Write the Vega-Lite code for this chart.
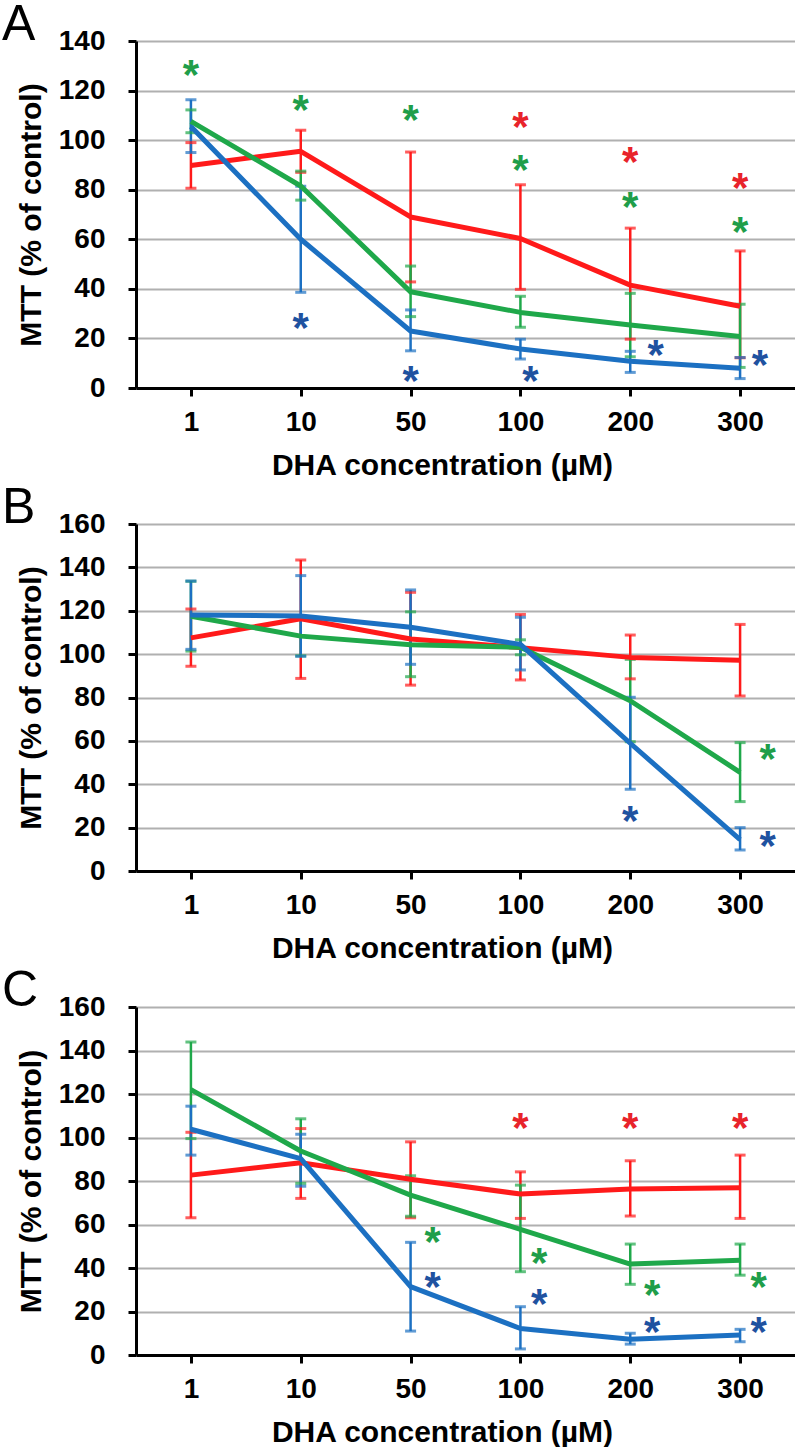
{
  "$schema": "https://vega.github.io/schema/vega-lite/v6.json",
  "autosize": {"type": "pad"},
  "padding": {"left": 2, "top": 0, "right": 0, "bottom": 0},
  "background": "white",
  "bounds": "flush",
  "spacing": 136,
  "config": {
    "view": {"stroke": null},
    "font": "Liberation Sans",
    "title": {"anchor": "start", "frame": "group", "font": "Liberation Sans", "fontSize": 50, "fontWeight": "normal", "color": "black", "dx": -134, "offset": -23, "baseline": "alphabetic"},
    "axis": {"domainColor": "black", "domainWidth": 3, "tickColor": "black", "tickWidth": 3, "tickSize": 8, "labelFont": "Liberation Sans", "labelFontWeight": "bold", "labelFontSize": 28, "labelColor": "black", "titleFont": "Liberation Sans", "titleFontWeight": "bold", "titleFontSize": 30, "titleColor": "black"},
    "axisY": {"grid": true, "gridColor": "#b0b0b0", "gridWidth": 2, "labelPadding": 23, "titlePadding": 12},
    "axisX": {"grid": false, "labelAngle": 0, "labelPadding": 12, "titlePadding": 14, "titleX": 306}
  },
  "datasets": {
    "bars": [
      {"panel": "A", "dose": "1", "series": "red", "mean": 89.8, "lo": 80.6, "hi": 99.0},
      {"panel": "A", "dose": "10", "series": "red", "mean": 95.5, "lo": 87.0, "hi": 104.0},
      {"panel": "A", "dose": "50", "series": "red", "mean": 69.0, "lo": 42.8, "hi": 95.2},
      {"panel": "A", "dose": "100", "series": "red", "mean": 60.3, "lo": 39.8, "hi": 82.0},
      {"panel": "A", "dose": "200", "series": "red", "mean": 41.5, "lo": 19.7, "hi": 64.5},
      {"panel": "A", "dose": "300", "series": "red", "mean": 33.0, "lo": 12.2, "hi": 55.3},
      {"panel": "A", "dose": "1", "series": "green", "mean": 107.6, "lo": 103.0, "hi": 112.2},
      {"panel": "A", "dose": "10", "series": "green", "mean": 81.5, "lo": 75.8, "hi": 87.5},
      {"panel": "A", "dose": "50", "series": "green", "mean": 38.8, "lo": 28.8, "hi": 49.2},
      {"panel": "A", "dose": "100", "series": "green", "mean": 30.5, "lo": 24.5, "hi": 37.0},
      {"panel": "A", "dose": "200", "series": "green", "mean": 25.4, "lo": 12.6, "hi": 38.2},
      {"panel": "A", "dose": "300", "series": "green", "mean": 20.8, "lo": 8.3, "hi": 33.8},
      {"panel": "A", "dose": "1", "series": "blue", "mean": 105.5, "lo": 95.0, "hi": 116.3},
      {"panel": "A", "dose": "10", "series": "blue", "mean": 60.0, "lo": 38.6, "hi": 81.4},
      {"panel": "A", "dose": "50", "series": "blue", "mean": 23.0, "lo": 15.0, "hi": 31.5},
      {"panel": "A", "dose": "100", "series": "blue", "mean": 15.7, "lo": 11.7, "hi": 19.7},
      {"panel": "A", "dose": "200", "series": "blue", "mean": 10.8, "lo": 6.3, "hi": 14.8},
      {"panel": "A", "dose": "300", "series": "blue", "mean": 8.0, "lo": 3.8, "hi": 12.3},
      {"panel": "B", "dose": "1", "series": "red", "mean": 107.5, "lo": 94.4, "hi": 120.8},
      {"panel": "B", "dose": "10", "series": "red", "mean": 116.3, "lo": 88.8, "hi": 143.4},
      {"panel": "B", "dose": "50", "series": "red", "mean": 107.0, "lo": 85.7, "hi": 128.5},
      {"panel": "B", "dose": "100", "series": "red", "mean": 103.0, "lo": 88.1, "hi": 118.3},
      {"panel": "B", "dose": "200", "series": "red", "mean": 98.5, "lo": 88.6, "hi": 108.8},
      {"panel": "B", "dose": "300", "series": "red", "mean": 97.2, "lo": 80.7, "hi": 113.7},
      {"panel": "B", "dose": "1", "series": "green", "mean": 117.5, "lo": 101.4, "hi": 133.6},
      {"panel": "B", "dose": "10", "series": "green", "mean": 108.3, "lo": 99.2, "hi": 117.4},
      {"panel": "B", "dose": "50", "series": "green", "mean": 104.3, "lo": 89.6, "hi": 119.5},
      {"panel": "B", "dose": "100", "series": "green", "mean": 103.2, "lo": 99.7, "hi": 106.6},
      {"panel": "B", "dose": "200", "series": "green", "mean": 78.5, "lo": 59.6, "hi": 97.6},
      {"panel": "B", "dose": "300", "series": "green", "mean": 45.5, "lo": 32.0, "hi": 59.2},
      {"panel": "B", "dose": "1", "series": "blue", "mean": 118.0, "lo": 102.2, "hi": 133.7},
      {"panel": "B", "dose": "10", "series": "blue", "mean": 117.6, "lo": 99.0, "hi": 136.2},
      {"panel": "B", "dose": "50", "series": "blue", "mean": 112.4, "lo": 95.3, "hi": 129.6},
      {"panel": "B", "dose": "100", "series": "blue", "mean": 104.5, "lo": 92.7, "hi": 117.0},
      {"panel": "B", "dose": "200", "series": "blue", "mean": 58.9, "lo": 37.7, "hi": 80.1},
      {"panel": "B", "dose": "300", "series": "blue", "mean": 14.5, "lo": 9.7, "hi": 20.0},
      {"panel": "C", "dose": "1", "series": "red", "mean": 82.7, "lo": 63.1, "hi": 102.4},
      {"panel": "C", "dose": "10", "series": "red", "mean": 88.4, "lo": 72.0, "hi": 104.1},
      {"panel": "C", "dose": "50", "series": "red", "mean": 80.8, "lo": 63.1, "hi": 98.0},
      {"panel": "C", "dose": "100", "series": "red", "mean": 74.0, "lo": 62.8, "hi": 84.2},
      {"panel": "C", "dose": "200", "series": "red", "mean": 76.3, "lo": 63.9, "hi": 89.3},
      {"panel": "C", "dose": "300", "series": "red", "mean": 76.9, "lo": 62.8, "hi": 91.9},
      {"panel": "C", "dose": "1", "series": "green", "mean": 122.0, "lo": 99.5, "hi": 143.9},
      {"panel": "C", "dose": "10", "series": "green", "mean": 93.8, "lo": 78.9, "hi": 108.6},
      {"panel": "C", "dose": "50", "series": "green", "mean": 73.5, "lo": 63.8, "hi": 82.4},
      {"panel": "C", "dose": "100", "series": "green", "mean": 57.8, "lo": 38.3, "hi": 78.1},
      {"panel": "C", "dose": "200", "series": "green", "mean": 41.8, "lo": 32.5, "hi": 51.0},
      {"panel": "C", "dose": "300", "series": "green", "mean": 43.6, "lo": 36.7, "hi": 51.0},
      {"panel": "C", "dose": "1", "series": "blue", "mean": 103.8, "lo": 91.9, "hi": 114.4},
      {"panel": "C", "dose": "10", "series": "blue", "mean": 90.3, "lo": 77.6, "hi": 101.5},
      {"panel": "C", "dose": "50", "series": "blue", "mean": 31.4, "lo": 11.0, "hi": 51.8},
      {"panel": "C", "dose": "100", "series": "blue", "mean": 12.2, "lo": 2.8, "hi": 22.2},
      {"panel": "C", "dose": "200", "series": "blue", "mean": 7.2, "lo": 5.0, "hi": 10.0},
      {"panel": "C", "dose": "300", "series": "blue", "mean": 9.2, "lo": 6.1, "hi": 11.8}
    ],
    "stars": [
      {"panel": "A", "dose": "1", "series": "green", "y": 130.0, "shift": 0},
      {"panel": "A", "dose": "10", "series": "green", "y": 115.8, "shift": 0},
      {"panel": "A", "dose": "10", "series": "blue", "y": 28.0, "shift": 0},
      {"panel": "A", "dose": "50", "series": "green", "y": 111.8, "shift": 0},
      {"panel": "A", "dose": "50", "series": "blue", "y": 6.3, "shift": 0},
      {"panel": "A", "dose": "100", "series": "red", "y": 109.1, "shift": 0},
      {"panel": "A", "dose": "100", "series": "green", "y": 91.6, "shift": 0},
      {"panel": "A", "dose": "100", "series": "blue", "y": 6.3, "shift": 0.09},
      {"panel": "A", "dose": "200", "series": "red", "y": 95.0, "shift": 0},
      {"panel": "A", "dose": "200", "series": "green", "y": 76.6, "shift": 0},
      {"panel": "A", "dose": "200", "series": "blue", "y": 17.0, "shift": 0.23},
      {"panel": "A", "dose": "300", "series": "red", "y": 84.2, "shift": 0},
      {"panel": "A", "dose": "300", "series": "green", "y": 66.5, "shift": 0},
      {"panel": "A", "dose": "300", "series": "blue", "y": 13.0, "shift": 0.18},
      {"panel": "B", "dose": "200", "series": "blue", "y": 27.4, "shift": 0},
      {"panel": "B", "dose": "300", "series": "green", "y": 55.8, "shift": 0.25},
      {"panel": "B", "dose": "300", "series": "blue", "y": 15.5, "shift": 0.25},
      {"panel": "C", "dose": "100", "series": "red", "y": 108.7, "shift": 0},
      {"panel": "C", "dose": "200", "series": "red", "y": 108.7, "shift": 0},
      {"panel": "C", "dose": "300", "series": "red", "y": 108.7, "shift": 0},
      {"panel": "C", "dose": "50", "series": "green", "y": 55.9, "shift": 0.2},
      {"panel": "C", "dose": "50", "series": "blue", "y": 35.2, "shift": 0.2},
      {"panel": "C", "dose": "100", "series": "green", "y": 46.4, "shift": 0.17},
      {"panel": "C", "dose": "100", "series": "blue", "y": 27.6, "shift": 0.17},
      {"panel": "C", "dose": "200", "series": "green", "y": 31.7, "shift": 0.2},
      {"panel": "C", "dose": "200", "series": "blue", "y": 14.5, "shift": 0.2},
      {"panel": "C", "dose": "300", "series": "green", "y": 35.2, "shift": 0.17},
      {"panel": "C", "dose": "300", "series": "blue", "y": 14.5, "shift": 0.17}
    ]
  },
  "vconcat": [
    {
      "width": 659, "height": 347,
      "title": {"text": "A"},
      "encoding": {"x": {"field": "dose", "type": "ordinal", "sort": ["1", "10", "50", "100", "200", "300"], "scale": {"type": "point", "padding": 0.5}, "axis": {"title": "DHA concentration (µM)"}}},
      "resolve": {"scale": {"color": "independent"}},
      "layer": [
        {"data": {"name": "bars"}, "transform": [{"filter": "datum.panel === 'A'"}], "mark": {"type": "rule", "strokeWidth": 2.5},
         "encoding": {"y": {"field": "lo", "type": "quantitative", "title": "MTT (% of control)", "scale": {"domain": [0, 140], "nice": false}, "axis": {"values": [0, 20, 40, 60, 80, 100, 120, 140]}}, "y2": {"field": "hi"},
          "color": {"field": "series", "type": "nominal", "legend": null, "scale": {"domain": ["red", "green", "blue"], "range": ["#ff1a1a", "#1fa84a", "#1c70c2"]}}}},
        {"data": {"name": "bars"}, "transform": [{"filter": "datum.panel === 'A'"}], "mark": {"type": "tick", "orient": "horizontal", "size": 11, "thickness": 3},
         "encoding": {"y": {"field": "lo", "type": "quantitative", "title": "MTT (% of control)", "scale": {"domain": [0, 140], "nice": false}},
          "color": {"field": "series", "type": "nominal", "legend": null, "scale": {"domain": ["red", "green", "blue"], "range": ["#ff1a1a", "#1fa84a", "#1c70c2"]}}}},
        {"data": {"name": "bars"}, "transform": [{"filter": "datum.panel === 'A'"}], "mark": {"type": "tick", "orient": "horizontal", "size": 11, "thickness": 3},
         "encoding": {"y": {"field": "hi", "type": "quantitative", "title": "MTT (% of control)", "scale": {"domain": [0, 140], "nice": false}},
          "color": {"field": "series", "type": "nominal", "legend": null, "scale": {"domain": ["red", "green", "blue"], "range": ["#ff1a1a", "#1fa84a", "#1c70c2"]}}}},
        {"data": {"name": "bars"}, "transform": [{"filter": "datum.panel === 'A'"}], "mark": {"type": "line", "strokeWidth": 5, "strokeJoin": "round"},
         "encoding": {"y": {"field": "mean", "type": "quantitative", "title": "MTT (% of control)", "scale": {"domain": [0, 140], "nice": false}},
          "color": {"field": "series", "type": "nominal", "legend": null, "sort": null, "scale": {"domain": ["red", "green", "blue"], "range": ["#ff1a1a", "#1fa84a", "#1c70c2"]}}}},
        {"data": {"name": "stars"}, "transform": [{"filter": "datum.panel === 'A'"}], "mark": {"type": "text", "text": "*", "font": "Liberation Sans", "fontWeight": "bold", "fontSize": 42, "baseline": "alphabetic", "align": "center", "dy": 23},
         "encoding": {"y": {"field": "y", "type": "quantitative", "title": "MTT (% of control)", "scale": {"domain": [0, 140], "nice": false}},
          "xOffset": {"field": "shift", "type": "quantitative", "scale": {"domain": [0, 1], "range": [0, 110]}},
          "color": {"field": "series", "type": "nominal", "legend": null, "scale": {"domain": ["red", "green", "blue"], "range": ["#e8232b", "#1f9e4a", "#1f52a0"]}}}}
      ]
    },
    {
      "width": 659, "height": 347,
      "title": {"text": "B"},
      "encoding": {"x": {"field": "dose", "type": "ordinal", "sort": ["1", "10", "50", "100", "200", "300"], "scale": {"type": "point", "padding": 0.5}, "axis": {"title": "DHA concentration (µM)"}}},
      "resolve": {"scale": {"color": "independent"}},
      "layer": [
        {"data": {"name": "bars"}, "transform": [{"filter": "datum.panel === 'B'"}], "mark": {"type": "rule", "strokeWidth": 2.5},
         "encoding": {"y": {"field": "lo", "type": "quantitative", "title": "MTT (% of control)", "scale": {"domain": [0, 160], "nice": false}, "axis": {"values": [0, 20, 40, 60, 80, 100, 120, 140, 160]}}, "y2": {"field": "hi"},
          "color": {"field": "series", "type": "nominal", "legend": null, "scale": {"domain": ["red", "green", "blue"], "range": ["#ff1a1a", "#1fa84a", "#1c70c2"]}}}},
        {"data": {"name": "bars"}, "transform": [{"filter": "datum.panel === 'B'"}], "mark": {"type": "tick", "orient": "horizontal", "size": 11, "thickness": 3},
         "encoding": {"y": {"field": "lo", "type": "quantitative", "title": "MTT (% of control)", "scale": {"domain": [0, 160], "nice": false}},
          "color": {"field": "series", "type": "nominal", "legend": null, "scale": {"domain": ["red", "green", "blue"], "range": ["#ff1a1a", "#1fa84a", "#1c70c2"]}}}},
        {"data": {"name": "bars"}, "transform": [{"filter": "datum.panel === 'B'"}], "mark": {"type": "tick", "orient": "horizontal", "size": 11, "thickness": 3},
         "encoding": {"y": {"field": "hi", "type": "quantitative", "title": "MTT (% of control)", "scale": {"domain": [0, 160], "nice": false}},
          "color": {"field": "series", "type": "nominal", "legend": null, "scale": {"domain": ["red", "green", "blue"], "range": ["#ff1a1a", "#1fa84a", "#1c70c2"]}}}},
        {"data": {"name": "bars"}, "transform": [{"filter": "datum.panel === 'B'"}], "mark": {"type": "line", "strokeWidth": 5, "strokeJoin": "round"},
         "encoding": {"y": {"field": "mean", "type": "quantitative", "title": "MTT (% of control)", "scale": {"domain": [0, 160], "nice": false}},
          "color": {"field": "series", "type": "nominal", "legend": null, "sort": null, "scale": {"domain": ["red", "green", "blue"], "range": ["#ff1a1a", "#1fa84a", "#1c70c2"]}}}},
        {"data": {"name": "stars"}, "transform": [{"filter": "datum.panel === 'B'"}], "mark": {"type": "text", "text": "*", "font": "Liberation Sans", "fontWeight": "bold", "fontSize": 42, "baseline": "alphabetic", "align": "center", "dy": 23},
         "encoding": {"y": {"field": "y", "type": "quantitative", "title": "MTT (% of control)", "scale": {"domain": [0, 160], "nice": false}},
          "xOffset": {"field": "shift", "type": "quantitative", "scale": {"domain": [0, 1], "range": [0, 110]}},
          "color": {"field": "series", "type": "nominal", "legend": null, "scale": {"domain": ["red", "green", "blue"], "range": ["#e8232b", "#1f9e4a", "#1f52a0"]}}}}
      ]
    },
    {
      "width": 659, "height": 348,
      "title": {"text": "C"},
      "encoding": {"x": {"field": "dose", "type": "ordinal", "sort": ["1", "10", "50", "100", "200", "300"], "scale": {"type": "point", "padding": 0.5}, "axis": {"title": "DHA concentration (µM)"}}},
      "resolve": {"scale": {"color": "independent"}},
      "layer": [
        {"data": {"name": "bars"}, "transform": [{"filter": "datum.panel === 'C'"}], "mark": {"type": "rule", "strokeWidth": 2.5},
         "encoding": {"y": {"field": "lo", "type": "quantitative", "title": "MTT (% of control)", "scale": {"domain": [0, 160], "nice": false}, "axis": {"values": [0, 20, 40, 60, 80, 100, 120, 140, 160]}}, "y2": {"field": "hi"},
          "color": {"field": "series", "type": "nominal", "legend": null, "scale": {"domain": ["red", "green", "blue"], "range": ["#ff1a1a", "#1fa84a", "#1c70c2"]}}}},
        {"data": {"name": "bars"}, "transform": [{"filter": "datum.panel === 'C'"}], "mark": {"type": "tick", "orient": "horizontal", "size": 11, "thickness": 3},
         "encoding": {"y": {"field": "lo", "type": "quantitative", "title": "MTT (% of control)", "scale": {"domain": [0, 160], "nice": false}},
          "color": {"field": "series", "type": "nominal", "legend": null, "scale": {"domain": ["red", "green", "blue"], "range": ["#ff1a1a", "#1fa84a", "#1c70c2"]}}}},
        {"data": {"name": "bars"}, "transform": [{"filter": "datum.panel === 'C'"}], "mark": {"type": "tick", "orient": "horizontal", "size": 11, "thickness": 3},
         "encoding": {"y": {"field": "hi", "type": "quantitative", "title": "MTT (% of control)", "scale": {"domain": [0, 160], "nice": false}},
          "color": {"field": "series", "type": "nominal", "legend": null, "scale": {"domain": ["red", "green", "blue"], "range": ["#ff1a1a", "#1fa84a", "#1c70c2"]}}}},
        {"data": {"name": "bars"}, "transform": [{"filter": "datum.panel === 'C'"}], "mark": {"type": "line", "strokeWidth": 5, "strokeJoin": "round"},
         "encoding": {"y": {"field": "mean", "type": "quantitative", "title": "MTT (% of control)", "scale": {"domain": [0, 160], "nice": false}},
          "color": {"field": "series", "type": "nominal", "legend": null, "sort": null, "scale": {"domain": ["red", "green", "blue"], "range": ["#ff1a1a", "#1fa84a", "#1c70c2"]}}}},
        {"data": {"name": "stars"}, "transform": [{"filter": "datum.panel === 'C'"}], "mark": {"type": "text", "text": "*", "font": "Liberation Sans", "fontWeight": "bold", "fontSize": 42, "baseline": "alphabetic", "align": "center", "dy": 23},
         "encoding": {"y": {"field": "y", "type": "quantitative", "title": "MTT (% of control)", "scale": {"domain": [0, 160], "nice": false}},
          "xOffset": {"field": "shift", "type": "quantitative", "scale": {"domain": [0, 1], "range": [0, 110]}},
          "color": {"field": "series", "type": "nominal", "legend": null, "scale": {"domain": ["red", "green", "blue"], "range": ["#e8232b", "#1f9e4a", "#1f52a0"]}}}}
      ]
    }
  ]
}
